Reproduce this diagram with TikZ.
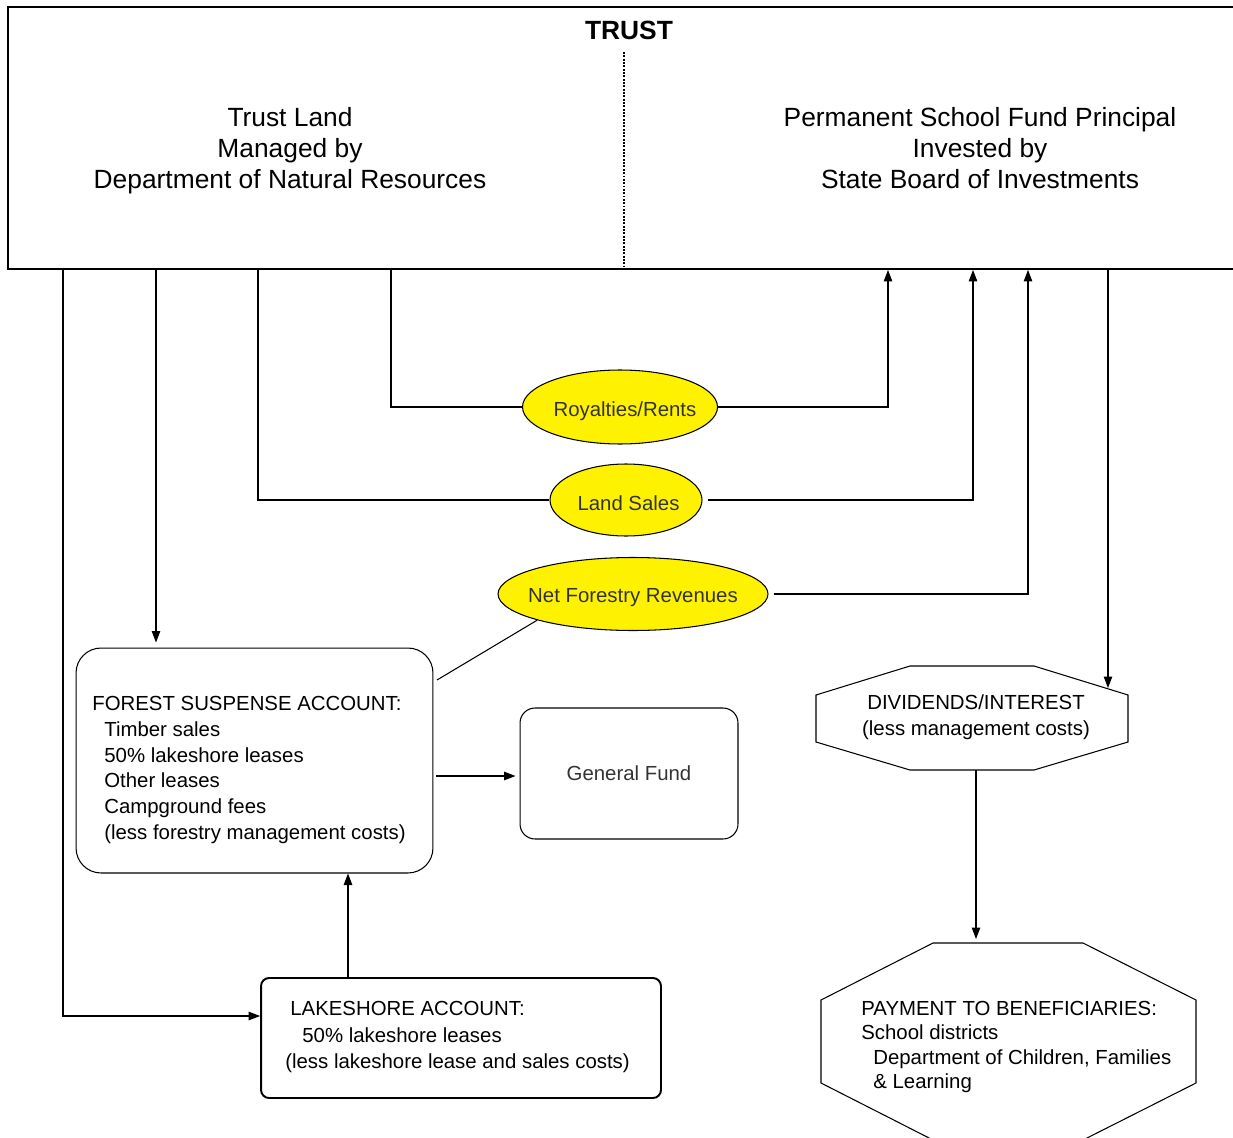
\documentclass[tikz,border=0pt]{standalone}
\usepackage{fontspec}
\setmainfont{Liberation Sans}
\usepackage{tikz}
\usetikzlibrary{arrows.meta}
\usetikzlibrary{shapes,positioning}
\tikzset{>={Triangle[length=2.3mm,width=1.7mm]}}

\begin{document}
\begin{tikzpicture}[x=0.02cm,y=-0.02cm,
  bigtext/.style={font=\fontsize{15}{17.6}\selectfont},
  smalltext/.style={font=\fontsize{11.6}{14.6}\selectfont},
  listtext/.style={smalltext,align=left,anchor=west,inner sep=0pt},
  conn/.style={line width=0.6pt},
  oval/.style={ellipse,draw,fill=yellow,line width=0.6pt,inner sep=0pt},
  ovaltext/.style={smalltext,text=black!80},
  acctbox/.style={draw,rounded corners=0.5cm,line width=0.6pt,inner sep=0pt}]

    \useasboundingbox (0,0) rectangle (1233,1138);

    % the trust
    \node[draw,line width=1.1pt,minimum width=24.64cm,minimum height=5.24cm,inner sep=0pt] (trust) at (624,138) {};
    \node[font={\fontsize{15}{17.6}\selectfont\bfseries}] (trusttitle) at (629,30) {TRUST};
    \draw [line width=1.1pt,dash pattern=on 1.1pt off 0.8pt] (624,52) -- (624,267);

    \node[bigtext,align=center] (landtext) at (290,151) {Trust Land\\Managed by\\Department of Natural Resources};
    \node[bigtext,align=center] (fundtext) at (980,148) {Permanent School Fund Principal\\Invested by\\State Board of Investments};

    % revenues
    \node[oval,minimum width=3.9cm,minimum height=1.48cm,label={[ovaltext,xshift=0.1cm,yshift=-0.08cm]center:Royalties/Rents}] (royal) at (620,407) {};
    \node[oval,minimum width=3.04cm,minimum height=1.44cm,label={[ovaltext,xshift=0.05cm,yshift=-0.06cm]center:Land Sales}] (landsales) at (626,500) {};
    \node[oval,minimum width=5.4cm,minimum height=1.46cm,label={[ovaltext,yshift=-0.08cm]center:Net Forestry Revenues}] (netforest) at (633,594) {};

    % accounts
    \node[acctbox,minimum width=7.14cm,minimum height=4.5cm] (forest) at (254.5,760.5) {};
    \node[listtext] (foresttext) at (92,770) {FOREST SUSPENSE ACCOUNT:\\\hspace*{0.24cm}Timber sales\\\hspace*{0.24cm}50\% lakeshore leases\\\hspace*{0.24cm}Other leases\\\hspace*{0.24cm}Campground fees\\\hspace*{0.24cm}(less forestry management costs)};

    \node[acctbox,rounded corners=0.3cm,minimum width=4.36cm,minimum height=2.62cm,smalltext,text=black!80] (genfund) at (629,773.5) {General Fund};

    \node[acctbox,rounded corners=0.16cm,line width=1.1pt,minimum width=8cm,minimum height=2.4cm] (lake) at (461,1038) {};
    \node[listtext,font={\fontsize{11.6}{15}\selectfont}] (laketext) at (285,1037) {\hspace*{0.1cm}LAKESHORE ACCOUNT:\\\hspace*{0.34cm}50\% lakeshore leases\\(less lakeshore lease and sales costs)};

    % dividends and payment
    \draw [conn] (910,666) -- (1034,666) -- (1128,695) -- (1128,742) -- (1034,770) -- (910,770) -- (816,742) -- (816,695) -- cycle;
    \node[smalltext,align=center] (divs) at (976,717) {DIVIDENDS/INTEREST\\(less management costs)};

    \draw [conn] (933,943) -- (1083,943) -- (1196,1000) -- (1196,1083) -- (1083,1140) -- (933,1140) -- (821,1083) -- (821,1000) -- cycle;
    \node[listtext,font={\fontsize{11.6}{14}\selectfont}] (paytext) at (861,1047) {PAYMENT TO BENEFICIARIES:\\School districts\\\hspace*{0.24cm}Department of Children, Families\\\hspace*{0.24cm}\& Learning};

    \coordinate (divsedge) at (1108,688);
    \coordinate (divsbottom) at (976,770);
    \coordinate (paytop) at (976,943);
    \coordinate (forestcorner) at (437,680);

    % flows
    \draw [conn,->] (63,0 |- trust.south) |- (lake.west |- 0,1016);
    \draw [conn,->,shorten >=0.1cm] (156,0 |- trust.south) -- (156,0 |- forest.north);
    \draw [conn] (258,0 |- trust.south) |- (landsales.west);
    \draw [conn] (391,0 |- trust.south) |- (royal.west);
    \draw [conn,->] (royal.east) -| (888,0 |- trust.south);
    \draw [conn,->,shorten <=0.1cm] (landsales.east) -| (973,0 |- trust.south);
    \draw [conn,->,shorten <=0.1cm] (netforest.east) -| (1028,0 |- trust.south);
    \draw [conn,->] (1108,0 |- trust.south) -- (divsedge);
    \draw [conn] (netforest.south west) -- (forestcorner);
    \draw [conn,->,shorten <=0.06cm,shorten >=0.08cm] (forest.east |- 0,776) -- (genfund.west |- 0,776);
    \draw [conn,->] (348,0 |- lake.north) -- (348,0 |- forest.south);
    \draw [conn,->,shorten >=0.08cm] (divsbottom) -- (paytop);

\end{tikzpicture}
\end{document}
